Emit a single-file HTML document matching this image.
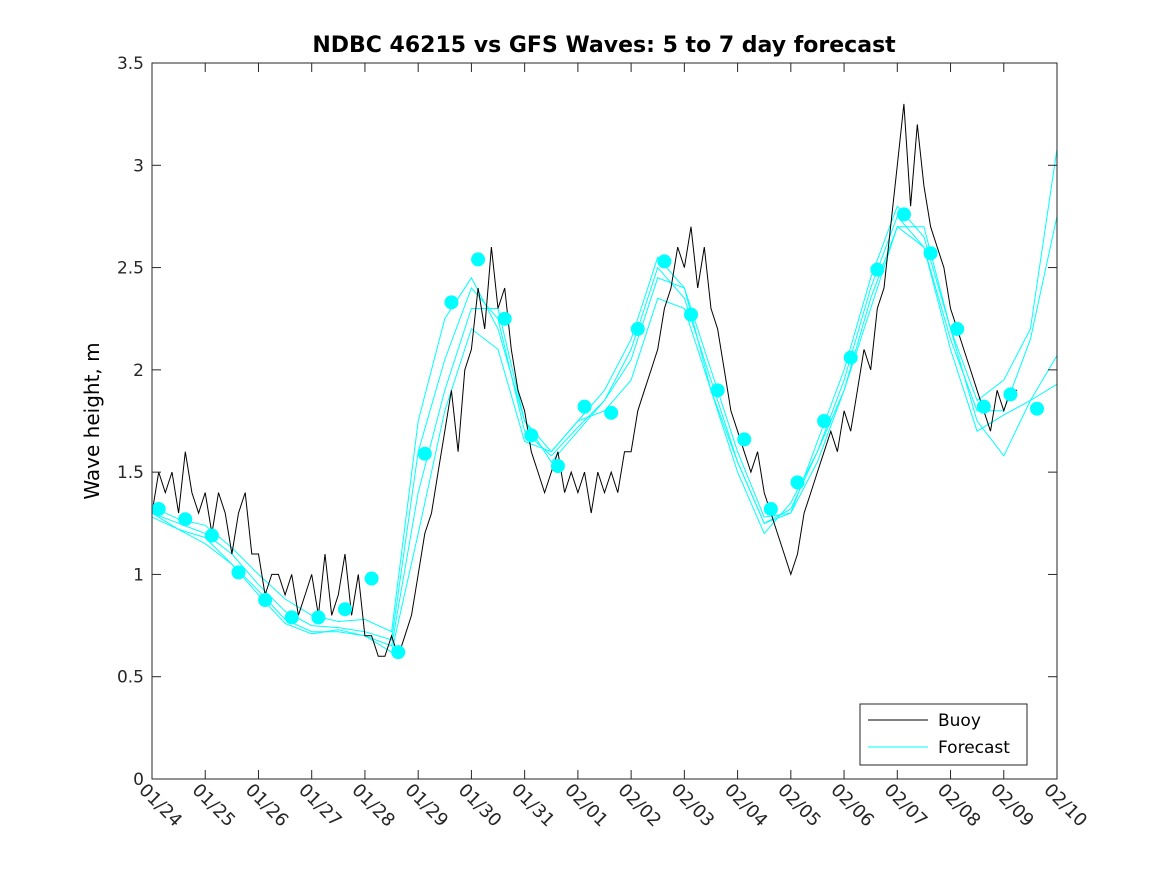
<!DOCTYPE html>
<html><head><meta charset="utf-8"><style>
body{margin:0;background:#fff}
svg text{font-family:"DejaVu Sans","Liberation Sans",sans-serif}
</style></head><body>
<svg id="chart" width="1167" height="875" viewBox="0 0 1167 875" xmlns="http://www.w3.org/2000/svg">
<rect width="1167" height="875" fill="#fff"/>
<rect x="152" y="63" width="905" height="716" fill="#fff"/>
<g id="marks"></g>
<g id="axes"></g>
<text x="604" y="52" text-anchor="middle" font-size="22" font-weight="bold">NDBC 46215 vs GFS Waves: 5 to 7 day forecast</text>
<text transform="translate(99,421) rotate(-90)" text-anchor="middle" font-size="20">Wave height, m</text>
<g>
<rect x="860" y="704" width="167" height="61" fill="#fff" stroke="#262626" stroke-width="1"/>
<line x1="868" y1="720" x2="928" y2="720" stroke="#000" stroke-width="1"/>
<text x="938" y="726" font-size="17">Buoy</text>
<line x1="868" y1="747" x2="928" y2="747" stroke="#0ff" stroke-width="1"/>
<text x="938" y="753" font-size="17">Forecast</text>
</g>
</svg>
<script>
const dateLabels=["01/24","01/25","01/26","01/27","01/28","01/29","01/30","01/31","02/01","02/02","02/03","02/04","02/05","02/06","02/07","02/08","02/09","02/10"];
const yTicks=[0,0.5,1,1.5,2,2.5,3,3.5];
// buoy every 3 hours from 01/24 00:00
const buoy=[1.3,1.5,1.4,1.5,1.3,1.6,1.4,1.3,
1.4,1.2,1.4,1.3,1.1,1.3,1.4,1.1,
1.1,0.9,1.0,1.0,0.9,1.0,0.8,0.9,
1.0,0.8,1.1,0.8,0.9,1.1,0.8,1.0,
0.7,0.7,0.6,0.6,0.7,0.6,0.7,0.8,
1.0,1.2,1.3,1.5,1.7,1.9,1.6,2.0,
2.1,2.4,2.2,2.6,2.3,2.4,2.1,1.9,
1.8,1.6,1.5,1.4,1.5,1.6,1.4,1.5,
1.4,1.5,1.3,1.5,1.4,1.5,1.4,1.6,
1.6,1.8,1.9,2.0,2.1,2.3,2.4,2.6,
2.5,2.7,2.4,2.6,2.3,2.2,2.0,1.8,
1.7,1.6,1.5,1.6,1.4,1.3,1.2,1.1,
1.0,1.1,1.3,1.4,1.5,1.6,1.7,1.6,
1.8,1.7,1.9,2.1,2.0,2.3,2.4,2.7,
3.0,3.3,2.8,3.2,2.9,2.7,2.6,2.5,
2.3,2.2,2.1,2.0,1.9,1.8,1.7,1.9,
1.8,1.9,1.9];
// forecasts every 12 hours from 01/24 00:00
const fcA=[1.33,1.27,1.24,1.13,1.0,0.88,0.80,0.77,0.78,0.72,1.75,2.25,2.45,2.2,1.75,1.6,1.75,1.9,2.15,2.55,2.4,2.0,1.6,1.28,1.3,1.65,2.0,2.45,2.8,2.65,2.2,1.85,1.95,2.2,3.08];
const fcB=[1.3,1.25,1.2,1.1,0.95,0.82,0.75,0.74,0.72,0.68,1.6,2.05,2.4,2.25,1.7,1.58,1.72,1.85,2.1,2.5,2.35,1.95,1.55,1.25,1.32,1.6,1.95,2.4,2.75,2.6,2.15,1.8,1.8,2.15,2.75];
const fcC=[1.28,1.22,1.18,1.05,0.92,0.78,0.72,0.72,0.7,0.65,1.4,1.9,2.3,2.3,1.75,1.55,1.7,1.85,2.05,2.45,2.4,1.9,1.5,1.2,1.35,1.6,1.9,2.35,2.7,2.7,2.2,1.75,1.58,1.85,2.07];
const fcD=[1.3,1.22,1.15,1.05,0.9,0.76,0.71,0.73,0.7,0.62,1.2,1.8,2.2,2.1,1.65,1.6,1.75,1.8,1.95,2.35,2.3,1.9,1.55,1.25,1.3,1.55,1.9,2.3,2.7,2.6,2.1,1.7,1.78,1.85,1.93];
// forecast markers every 12 hours from 01/24 03:00
const dots=[1.32,1.27,1.19,1.01,0.875,0.79,0.79,0.83,0.98,0.62,1.59,2.33,2.54,2.25,1.68,1.53,1.82,1.79,2.20,2.53,2.27,1.90,1.66,1.32,1.45,1.75,2.06,2.49,2.76,2.57,2.20,1.82,1.88,1.81];

const X0=152,X1=1057,Y0=779,Y1=63;
const xs=d=>X0+(X1-X0)*d/17;
const ys=v=>Y0-(Y0-Y1)*v/3.5;
const NS="http://www.w3.org/2000/svg";
const marks=document.getElementById('marks'),axes=document.getElementById('axes');
function mk(tag,attrs,parent){const e=document.createElementNS(NS,tag);for(const k in attrs)e.setAttribute(k,attrs[k]);parent.appendChild(e);return e;}

function poly(vals,step,start,color,name){
  const pts=vals.map((v,i)=>xs(start+i*step).toFixed(1)+","+ys(v).toFixed(1)).join(" ");
  const p=mk('polyline',{points:pts,fill:'none',stroke:color,'stroke-width':1},marks);
  
  
}
poly(fcA,0.5,0,'#00ffff','forecast-line-a');
poly(fcB,0.5,0,'#00ffff','forecast-line-b');
poly(fcC,0.5,0,'#00ffff','forecast-line-c');
poly(fcD,0.5,0,'#00ffff','forecast-line-d');
poly(buoy,0.125,0,'#000','buoy-line');
dots.forEach((v,i)=>{
  const c=mk('circle',{cx:xs(0.125+i*0.5),cy:ys(v),r:7,fill:'#00ffff'},marks);
  
  
});

const frame=mk('rect',{x:X0,y:Y1,width:X1-X0,height:Y0-Y1,fill:'none',stroke:'#262626','stroke-width':1},axes);


yTicks.forEach(t=>{
  const y=ys(t);
  mk('line',{x1:X0,y1:y,x2:X0+9,y2:y,stroke:'#262626'},axes);
  mk('line',{x1:X1,y1:y,x2:X1-9,y2:y,stroke:'#262626'},axes);
  const tx=mk('text',{x:X0-8,y:y+6,'text-anchor':'end','font-size':17,fill:'#262626'},axes);
  tx.textContent=t;
  
  
});
dateLabels.forEach((l,i)=>{
  const x=xs(i);
  mk('line',{x1:x,y1:Y0,x2:x,y2:Y0-9,stroke:'#262626'},axes);
  mk('line',{x1:x,y1:Y1,x2:x,y2:Y1+9,stroke:'#262626'},axes);
  const tx=mk('text',{transform:`translate(${x-14},${Y0+12}) rotate(45)`,'font-size':18,fill:'#262626'},axes);
  tx.textContent=l;
  
  
});
</script>
</body></html>
